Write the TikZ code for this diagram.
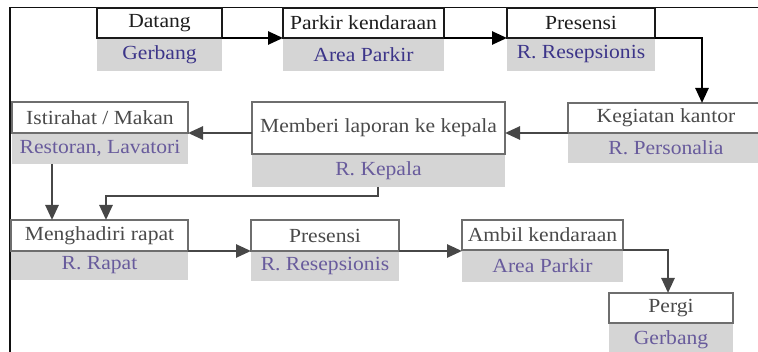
\documentclass[tikz,border=0pt]{standalone}
\usepackage{fontspec}
\setmainfont{Liberation Serif}[FakeStretch=1.08]
\usetikzlibrary{arrows.meta,calc}

\definecolor{frameline}{HTML}{111111}
\definecolor{topline}{HTML}{1A1A1A}
\definecolor{boxline}{HTML}{6E6E6E}
\definecolor{toptext}{HTML}{1E1E1E}
\definecolor{acttext}{HTML}{4A4A4A}
\definecolor{toploc}{HTML}{3C3589}
\definecolor{loctext}{HTML}{685B9C}
\definecolor{locfill}{HTML}{D5D5D5}
\definecolor{conncol}{HTML}{474747}

\tikzset{
  cell/.style={anchor=north west, inner sep=0pt, outer sep=0pt,
    font=\fontsize{20}{24}\selectfont},
  act/.style={cell, draw=boxline, line width=1.2pt, fill=white, text=acttext},
  loc/.style={cell, fill=locfill, text=loctext},
  topact/.style={act, draw=topline, text=toptext},
  toploc/.style={loc, text=toploc},
  conn/.style={draw=conncol, line width=2.6pt,
    -{Triangle[length=15pt,width=13pt]}},
  topconn/.style={conn, draw=black},
}

\begin{document}
\begin{tikzpicture}[x=1pt,y=-1pt]
\useasboundingbox (0,0) rectangle (758,352);

% outer frame (top and left edges)
\draw[frameline, line width=1.6pt] (10,352) -- (10,7.5) -- (760,7.5);

% first row
\node[toploc, minimum width=125, minimum height=33] (datangL) at (97,38) {Gerbang};
\node[topact, minimum width=125, minimum height=30] (datang) at (97,8) {Datang};
\node[toploc, minimum width=161, minimum height=33] (parkirL) at (283,38) {Area Parkir};
\node[topact, minimum width=161, minimum height=30] (parkir) at (283,8) {Parkir kendaraan};
\node[toploc, minimum width=148, minimum height=33] (presA-L) at (507,38) {R. Resepsionis};
\node[topact, minimum width=148, minimum height=30] (presA) at (507,8) {Presensi};

% second row
\node[loc, minimum width=196, minimum height=30] (kegiatanL) at (568,133) {R. Personalia};
\node[act, minimum width=196, minimum height=30] (kegiatan) at (568,103) {Kegiatan kantor};
\node[loc, minimum width=253, minimum height=33] (memberiL) at (252,154) {R. Kepala};
\node[act, minimum width=253, minimum height=52] (memberi) at (252,102) {Memberi laporan ke kepala};
\node[loc, minimum width=176, minimum height=31] (istirahatL) at (12,133) {Restoran, Lavatori};
\node[act, minimum width=176, minimum height=31] (istirahat) at (12,102) {Istirahat / Makan};

% third row
\node[loc, minimum width=177, minimum height=29] (rapatL) at (11,251) {R. Rapat};
\node[act, minimum width=177, minimum height=31] (rapat) at (11,220) {Menghadiri rapat};
\node[loc, minimum width=148, minimum height=30] (presB-L) at (251,251) {R. Resepsionis};
\node[act, minimum width=148, minimum height=31] (presB) at (251,220) {Presensi};
\node[loc, minimum width=161, minimum height=32] (ambilL) at (462,250) {Area Parkir};
\node[act, minimum width=161, minimum height=30] (ambil) at (462,220) {Ambil kendaraan};

% last step
\node[loc, minimum width=124, minimum height=33] (pergiL) at (609,323) {Gerbang};
\node[act, minimum width=124, minimum height=30] (pergi) at (609,293) {Pergi};

% connectors
\draw[topconn] (datang.south east) -- (parkir.south west);
\draw[topconn] (parkir.south east) -- (presA.south west);
\draw[topconn] (presA.south east) -| ($(kegiatan.north west)+(134,0)$);
\draw[conn] (kegiatan.south west) -- (kegiatan.south west -| memberi.east);
\draw[conn] (istirahat.south east -| memberi.west) -- (istirahat.south east);
\draw[conn] ($(istirahatL.south west)+(40,0)$) coordinate (down1) -- (down1 |- rapat.north);
\draw[conn] ($(memberiL.south west)+(126,0)$) -- ++(0,9) -| ($(rapat.north west)+(95,0)$);
\draw[conn] (rapat.south east) -- (presB.south west);
\draw[conn] (presB.south east) -- (presB.south east -| ambil.west);
\draw[conn] (ambil.south east) -| ($(pergi.north west)+(59,0)$);
\end{tikzpicture}
\end{document}
